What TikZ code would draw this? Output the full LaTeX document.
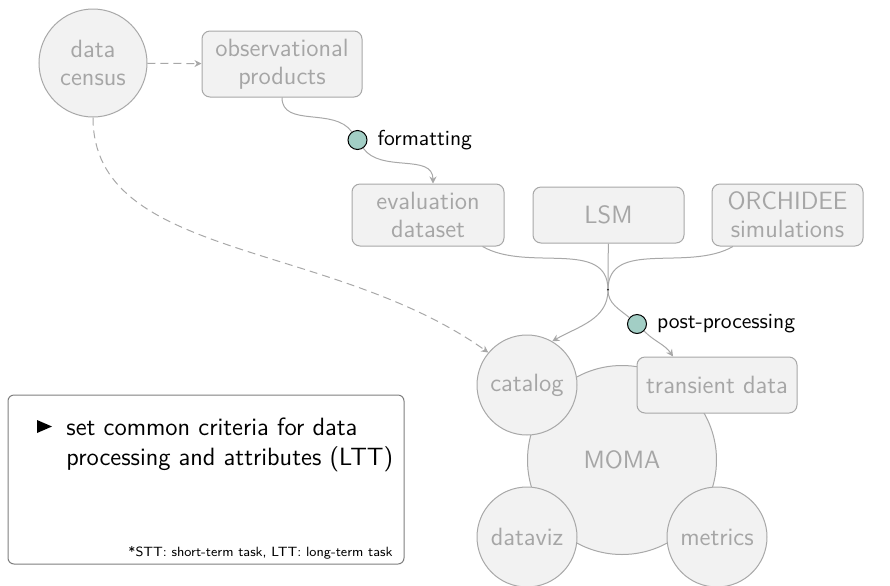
\documentclass[tikz,border=0pt]{standalone}
\usepackage{fontspec}
\usetikzlibrary{arrows.meta}
\definecolor{boxfill}{HTML}{F2F2F2}
\definecolor{boxline}{HTML}{A8A8A8}
\definecolor{boxtext}{HTML}{A6A6A6}
\definecolor{stepteal}{HTML}{A2CEC5}
\definecolor{legendline}{HTML}{7F7F7F}
\begin{document}
\begin{tikzpicture}[x=0.5pt,y=-0.5pt,
  font=\sffamily\fontsize{12.5}{14}\selectfont,
  block/.style={draw=boxline, fill=boxfill, text=boxtext, rounded corners=4pt,
    align=center, inner sep=0pt, line width=0.5pt},
  blob/.style={circle, draw=boxline, fill=boxfill, text=boxtext, align=center,
    inner sep=0pt, line width=0.5pt},
  link/.style={draw=boxline, line width=0.5pt},
  flow/.style={link, -{Stealth[length=3.5pt,width=3.5pt]}},
  dashflow/.style={flow, dash pattern=on 4pt off 2.5pt},
  task/.style={circle, draw=black, fill=stepteal, minimum size=9.5pt, inner sep=0pt,
    line width=0.5pt,
    label={[font=\sffamily\fontsize{10.8}{13}\selectfont, text=black,
      label distance=1.5pt]right:#1}},
  legendbox/.style={draw=legendline, fill=white, rounded corners=3pt,
    line width=0.5pt, inner sep=0pt},
  bullettext/.style={anchor=base west, inner sep=0pt, text=black}]
\useasboundingbox (0,0) rectangle (890,585);

% sources
\node[blob, minimum size=54pt] (census) at (93,63) {data\\census};
\node[block, minimum width=80pt, minimum height=33pt] (obs) at (282,64) {observational\\products};
\node[block, minimum width=76pt, minimum height=31pt] (eval) at (428,215) {evaluation\\dataset};
\node[block, minimum width=75.5pt, minimum height=28pt] (lsm) at (608.5,215) {LSM};
\node[block, minimum width=75.5pt, minimum height=31pt] (orch) at (787.5,215) {ORCHIDEE\\simulations};
\coordinate (join) at (608,290);

% processing steps
\node[task=formatting] (fmt) at (357.5,140) {};
\node[task=post-processing] (post) at (637,324) {};

% MOMA and its parts
\node[blob, minimum size=94.5pt] (moma) at (622,460) {MOMA};
\node[blob, minimum size=50pt] (catalog) at (527,385) {catalog};
\node[block, minimum width=80pt, minimum height=28pt] (transient) at (717,385) {transient data};
\node[blob, minimum size=50pt] (dataviz) at (527,537) {dataviz};
\node[blob, minimum size=50pt] (metrics) at (717,537) {metrics};

% connectors
\draw[dashflow] (census) -- (obs);
\draw[link] (obs.south) to[out=-90,in=125] (fmt);
\draw[flow] (fmt) to[out=-55,in=90] ([xshift=2.5pt]eval.north);
\draw[link] (eval) to[out=-30,in=90] (join);
\draw[link] (orch) to[out=-150,in=90] (join);
\draw[link] (lsm) -- (join);
\fill (join) circle (0.6pt);
\draw[flow] (join) to[out=-90,in=30] (catalog.60);
\draw[link] (join) to[out=-90,in=140] (post);
\draw[flow] (post) to[out=-45,in=125] (transient.147);
\draw[dashflow] (census.south) .. controls (93,260) and (330,240) .. (catalog.140);

% legend
\node[legendbox, minimum width=198pt, minimum height=84.5pt] (legend) at (206,479.5) {};
\fill (37,420) -- (52,426.5) -- (37,433) -- cycle;
\node[bullettext] (crit1) at (66,435) {set common criteria for data};
\node[bullettext] (crit2) at (66,465) {processing and attributes (LTT)};
\node[anchor=base east, inner sep=0pt, font=\sffamily\fontsize{6.7}{8}\selectfont] (note) at (393,556)
  {*STT: short-term task, LTT: long-term task};
\end{tikzpicture}
\end{document}
